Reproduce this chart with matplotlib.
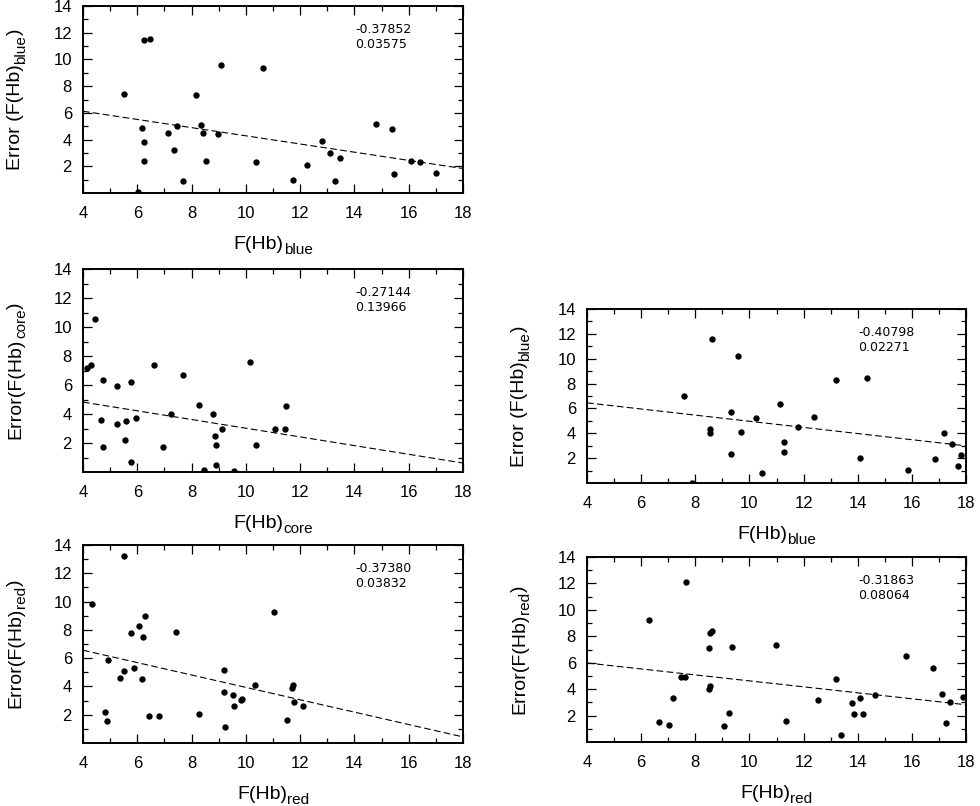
import matplotlib
matplotlib.use("Agg")
import matplotlib.pyplot as plt

plt.rcParams['font.family'] = ['Liberation Sans', 'DejaVu Sans']

# ---------------- data ----------------
p1_x = [5.50, 6.26, 6.45, 6.19, 6.24, 6.24, 6.04, 7.12, 7.47, 7.37, 7.67, 8.16, 8.33, 8.42, 8.53, 8.97,
        9.09, 10.37, 10.63, 11.74, 12.27, 12.82, 13.10, 13.29, 13.46, 14.80, 15.39, 15.45, 16.07, 16.42, 17.01]
p1_y = [7.38, 11.45, 11.55, 4.88, 3.80, 2.40, 0.05, 4.50, 5.00, 3.20, 0.93, 7.30, 5.10, 4.50, 2.40, 4.40,
        9.60, 2.30, 9.38, 1.00, 2.10, 3.90, 3.00, 0.93, 2.60, 5.20, 4.80, 1.40, 2.40, 2.30, 1.50]
p1_fit = [6.12, 1.83]
p1_stats = ["-0.37852", "0.03575"]

p2_x = [4.15, 4.30, 4.44, 4.68, 4.74, 4.74, 5.24, 5.25, 5.56, 5.60, 5.76, 5.77, 5.96, 6.61, 6.94,
        7.25, 7.70, 8.27, 8.46, 8.80, 8.86, 8.90, 8.90, 9.13, 9.55, 10.17, 10.37, 11.06, 11.44, 11.47]
p2_y = [7.16, 7.37, 10.53, 3.60, 6.36, 1.70, 5.94, 3.30, 2.18, 3.53, 0.67, 6.24, 3.72, 7.37, 1.70,
        4.02, 6.66, 4.61, 0.16, 4.02, 2.50, 1.88, 0.46, 3.00, 0.07, 7.57, 1.88, 3.00, 3.00, 4.52]
p2_fit = [4.82, 0.62]
p2_stats = ["-0.27144", "0.13966"]

p3_x = [4.33, 5.51, 4.81, 4.89, 4.93, 5.37, 5.51, 5.78, 5.89, 6.07, 6.16, 6.21, 6.30, 6.42, 6.79, 7.41,
        8.28, 9.18, 9.20, 9.24, 9.54, 9.58, 9.83, 9.85, 10.32, 11.04, 11.53, 11.70, 11.75, 11.76, 12.12]
p3_y = [9.85, 13.22, 2.22, 1.53, 5.90, 4.58, 5.08, 7.77, 5.29, 8.26, 4.51, 7.49, 8.95, 1.94, 1.94, 7.86,
        2.03, 5.19, 3.61, 1.13, 3.40, 2.62, 3.02, 3.12, 4.11, 9.26, 1.63, 3.92, 4.08, 2.93, 2.62]
p3_fit = [6.56, 0.43]
p3_stats = ["-0.37380", "0.03832"]

p4_x = [7.59, 7.88, 8.54, 8.55, 8.61, 9.31, 9.31, 9.58, 9.69, 10.26, 10.45, 11.14, 11.28, 11.28,
        11.80, 12.39, 13.21, 14.08, 14.34, 15.87, 16.87, 17.19, 17.48, 17.70, 17.82]
p4_y = [7.01, 0.03, 4.32, 4.03, 11.60, 5.71, 2.32, 10.21, 4.11, 5.23, 0.83, 6.32, 3.33, 2.53,
        4.53, 5.31, 8.32, 2.03, 8.43, 1.04, 1.92, 4.03, 3.12, 1.33, 2.24]
p4_fit = [6.45, 2.99]
p4_stats = ["-0.40798", "0.02271"]

p5_x = [6.28, 6.66, 7.04, 7.16, 7.46, 7.61, 7.65, 8.50, 8.50, 8.54, 8.55, 8.60, 9.05, 9.25, 9.37, 10.98,
        11.35, 12.54, 13.19, 13.39, 13.80, 13.87, 14.09, 14.18, 14.64, 15.78, 16.79, 17.13, 17.25, 17.42, 17.90]
p5_y = [9.23, 1.54, 1.31, 3.33, 4.92, 4.92, 12.13, 7.11, 4.01, 4.21, 8.25, 8.42, 1.24, 2.22, 7.21, 7.31,
        1.61, 3.20, 4.79, 0.53, 2.93, 2.12, 3.33, 2.12, 3.53, 6.51, 5.60, 3.63, 1.41, 3.03, 3.43]
p5_fit = [5.98, 2.82]
p5_stats = ["-0.31863", "0.08064"]

x_range = [4, 18]
y_range = [0, 14]
x_major = [4, 6, 8, 10, 12, 14, 16, 18]
x_minor = [5, 7, 9, 11, 13, 15, 17]
y_major = [2, 4, 6, 8, 10, 12, 14]
y_minor = [1, 3, 5, 7, 9, 11, 13]

# label pieces: (main, subscript, tail)
panels = [
    dict(x=p1_x, y=p1_y, fit=p1_fit, stats=p1_stats, rect=(83, 6, 463, 193),
         xl=("F(Hb)", "blue"), yl=("Error (F(Hb)", "blue", ")")),
    dict(x=p2_x, y=p2_y, fit=p2_fit, stats=p2_stats, rect=(83, 269, 463, 472),
         xl=("F(Hb)", "core"), yl=("Error(F(Hb)", "core", ")")),
    dict(x=p3_x, y=p3_y, fit=p3_fit, stats=p3_stats, rect=(83, 545, 463, 743),
         xl=("F(Hb)", "red"), yl=("Error(F(Hb)", "red", ")")),
    dict(x=p4_x, y=p4_y, fit=p4_fit, stats=p4_stats, rect=(587, 309, 966, 483),
         xl=("F(Hb)", "blue"), yl=("Error (F(Hb)", "blue", ")")),
    dict(x=p5_x, y=p5_y, fit=p5_fit, stats=p5_stats, rect=(587, 557, 966, 742),
         xl=("F(Hb)", "red"), yl=("Error(F(Hb)", "red", ")")),
]

W, H = 980, 806
fig = plt.figure(figsize=(W / 100, H / 100), dpi=100)

MAIN_FS = 14
SUB_FS = 11
label_groups = []

for p in panels:
    l, t, r, b = p['rect']
    ax = fig.add_axes([l / W, 1 - b / H, (r - l) / W, (b - t) / H])
    ax.set_xlim(x_range)
    ax.set_ylim(y_range)
    ax.set_xticks(x_major)
    ax.set_xticks(x_minor, minor=True)
    ax.set_yticks(y_major)
    ax.set_yticks(y_minor, minor=True)
    ax.tick_params(which='both', direction='in', top=True, right=True, width=0.9, colors='black')
    ax.tick_params(which='major', length=6.5, labelsize=12)
    ax.tick_params(axis='x', which='major', pad=9.5)
    ax.tick_params(axis='y', which='major', pad=8.0)
    ax.tick_params(which='minor', length=3.5)
    for s in ax.spines.values():
        s.set_linewidth(1.4)

    ax.scatter(p['x'], p['y'], s=21, color='black', zorder=3, linewidths=0)
    line, = ax.plot(x_range, p['fit'], color='black', lw=0.8)
    line.set_dashes((6, 3))

    # statistics text
    height_px = b - t
    ax.text((355 - 83) / 380 if l < 300 else (858 - 587) / 379, 1 - 17 / height_px,
            p['stats'][0] + "\n" + p['stats'][1], transform=ax.transAxes,
            ha='left', va='top', fontsize=9, family='DejaVu Sans', linespacing=1.2)

    # x label: main + subscript
    xm = ax.annotate(p['xl'][0], xy=(0.5, 0), xycoords='axes fraction', xytext=(-40, -56),
                     textcoords='offset pixels', ha='left', va='baseline', fontsize=MAIN_FS,
                     annotation_clip=False)
    xs = ax.annotate(p['xl'][1], xy=(1, 0), xycoords=(xm, 'axes fraction'), xytext=(0, -61),
                     textcoords='offset pixels', ha='left', va='baseline', fontsize=SUB_FS,
                     annotation_clip=False)
    # y label: main + subscript + tail (rotated)
    ym = ax.annotate(p['yl'][0], xy=(0, 0.5), xycoords='axes fraction', xytext=(-63, -70),
                     textcoords='offset pixels', ha='left', va='baseline', fontsize=MAIN_FS,
                     rotation=90, rotation_mode='anchor', annotation_clip=False)
    ys = ax.annotate(p['yl'][1], xy=(0, 1), xycoords=('axes fraction', ym), xytext=(-58, 0),
                     textcoords='offset pixels', ha='left', va='baseline', fontsize=SUB_FS,
                     rotation=90, rotation_mode='anchor', annotation_clip=False)
    yt = ax.annotate(p['yl'][2], xy=(0, 1), xycoords=('axes fraction', ys), xytext=(-63, 0),
                     textcoords='offset pixels', ha='left', va='baseline', fontsize=MAIN_FS,
                     rotation=90, rotation_mode='anchor', annotation_clip=False)
    label_groups.append((ax, xm, xs, ym, ys, yt))

# center composite labels on their axes
fig.canvas.draw()
renderer = fig.canvas.get_renderer()
for ax, xm, xs, ym, ys, yt in label_groups:
    abox = ax.get_window_extent(renderer)
    b1 = xm.get_window_extent(renderer)
    b2 = xs.get_window_extent(renderer)
    cx = (min(b1.x0, b2.x0) + max(b1.x1, b2.x1)) / 2
    ox, oy = xm.xyann
    xm.xyann = (ox + (abox.x0 + abox.x1) / 2 - cx, oy)
    fig.canvas.draw()
    bb = [t.get_window_extent(renderer) for t in (ym, ys, yt)]
    cy = (min(q.y0 for q in bb) + max(q.y1 for q in bb)) / 2
    ox, oy = ym.xyann
    ym.xyann = (ox, oy + (abox.y0 + abox.y1) / 2 - cy)

fig.savefig("out.png", dpi=100, facecolor='white')
